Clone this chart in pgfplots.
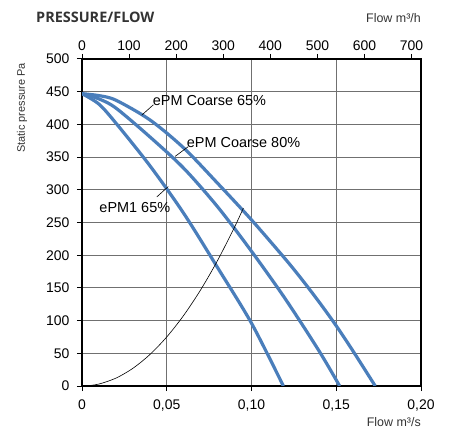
\documentclass[border=0pt]{standalone}
\usepackage{pgfplots}
\pgfplotsset{compat=1.18}
\usepackage{fontspec}
\setmainfont{Liberation Sans}
\newfontfamily\titlefont{Open Sans}
\definecolor{curveblue}{HTML}{4A7EBB}
\definecolor{gridgray}{HTML}{707070}
\definecolor{txtgray}{HTML}{333333}
\begin{document}
\begin{tikzpicture}
\path[use as bounding box] (-82bp,-50bp) rectangle (369bp,386bp);
\begin{axis}[at={(0bp,0bp)}, anchor=south west, scale only axis,
  width=339bp, height=327bp,
  xmin=0, xmax=0.2, ymin=0, ymax=500,
  xtick={0,0.05,0.1,0.15,0.2},
  xticklabels={0,{0,05},{0,10},{0,15},{0,20}},
  ytick={0,50,...,500},
  xtick pos=bottom, ytick pos=left,
  tick align=outside, major tick length=5bp,
  grid=major, grid style={gridgray, line width=0.8bp},
  axis line style={black, line width=1.6bp},
  tick style={black, line width=1bp},
  tick label style={font=\fontsize{14}{16}\selectfont},
  xticklabel style={yshift=-5bp},
  yticklabel style={xshift=-4bp},
  /pgf/number format/assume math mode=true,
  clip=true,
]
\addplot[curveblue, line width=3.2bp, smooth] coordinates {
(0,447)(0.01,444)(0.02,437)(0.04,407)(0.06,364)(0.08,310)(0.10,254)(0.12,194)(0.13,162)(0.14,128)(0.15,92)(0.16,53)(0.173,0)};
\addplot[curveblue, line width=3.2bp, smooth] coordinates {
(0,447)(0.01,439)(0.02,425)(0.04,381)(0.06,333)(0.08,274)(0.10,206)(0.12,133)(0.14,53)(0.152,0)};
\addplot[curveblue, line width=3.2bp, smooth] coordinates {
(0,447)(0.01,431)(0.02,402)(0.04,337)(0.06,264)(0.08,181)(0.10,96)(0.1188,0)};
\addplot[black, line width=0.6bp, smooth] coordinates {
(0.003,0.3)(0.01,3)(0.02,12)(0.03,27)(0.04,48)(0.05,75)(0.06,108)(0.07,147)(0.08,192)(0.09,243)(0.0952,272)};
% leader lines
\draw[black, line width=0.6bp] (axis cs:0.0352,414) -- (axis cs:0.0421,430);
\draw[black, line width=0.6bp] (axis cs:0.0549,351) -- (axis cs:0.0627,366);
\draw[black, line width=0.6bp] (axis cs:0.0441,289) -- (axis cs:0.0509,305);
\node[anchor=west, inner sep=0pt, font=\fontsize{14.5}{16}\selectfont] at (axis cs:0.0417,436) {ePM Coarse 65\%};
\node[anchor=west, inner sep=0pt, font=\fontsize{14.5}{16}\selectfont] at (axis cs:0.0618,372) {ePM Coarse 80\%};
\node[anchor=west, inner sep=0pt, font=\fontsize{14.5}{16}\selectfont] at (axis cs:0.0102,273) {ePM1 65\%};
\end{axis}
\begin{axis}[at={(0bp,0bp)}, anchor=south west, scale only axis,
  width=339bp, height=327bp,
  xmin=0, xmax=720, ymin=0, ymax=500,
  axis x line*=top, hide y axis,
  xtick={0,100,...,700},
  tick align=outside, major tick length=5bp,
  axis line style={black, line width=1.6bp},
  tick style={black, line width=1bp},
  tick label style={font=\fontsize{14}{16}\selectfont},
  /pgf/number format/assume math mode=true,
]
\end{axis}
\node[anchor=base west, inner sep=0pt, text=txtgray, font=\titlefont\bfseries\fontsize{14.5}{16}\selectfont] at (-46bp,363.5bp) {PRESSURE/FLOW};
\node[anchor=base east, inner sep=0pt, text=txtgray, font=\fontsize{12.5}{14}\selectfont] at (339bp,363bp) {Flow m³/h};
\node[anchor=base east, inner sep=0pt, text=txtgray, font=\fontsize{12.5}{14}\selectfont] at (339bp,-40bp) {Flow m³/s};
\node[anchor=east, rotate=90, inner sep=0pt, text=txtgray, font=\fontsize{11}{13}\selectfont] at (-60bp,323bp) {Static pressure Pa};
\end{tikzpicture}
\end{document}
